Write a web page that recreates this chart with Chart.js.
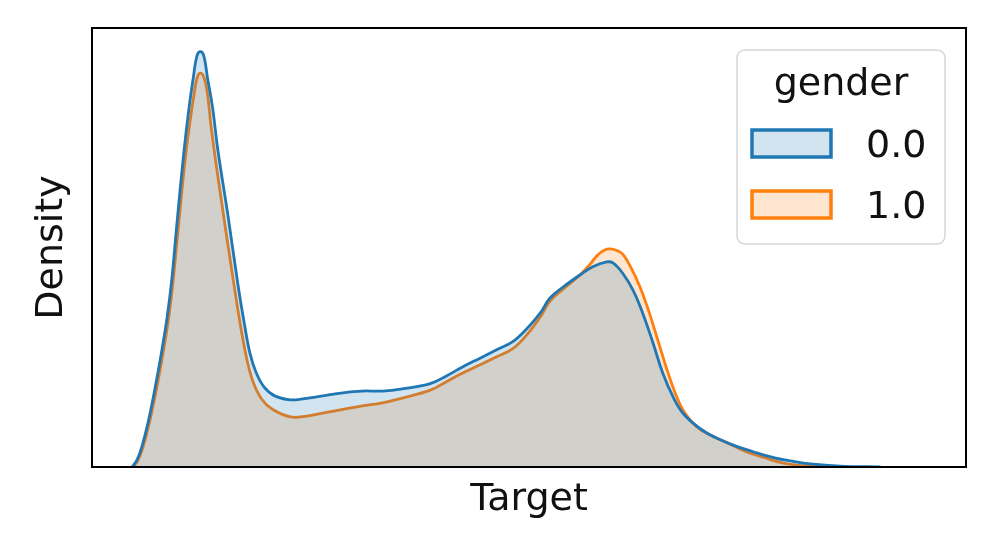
<!DOCTYPE html>
<html>
<head>
<meta charset="utf-8">
<script src="https://cdn.jsdelivr.net/npm/chart.js@4.4.1/dist/chart.umd.min.js"></script>
<style>
  html, body { margin: 0; padding: 0; background: #ffffff; }
  #wrap { width: 997px; height: 554px; position: relative; }
</style>
</head>
<body>
<div id="wrap"><canvas id="c" width="997" height="554"></canvas></div>
<script>
// ---- Data (x: Target, normalised 0-100; y: density, relative units) ----
const seriesNames = ["0.0", "1.0"];
const legendTitle = "gender";
const xLabel = "Target";
const yLabel = "Density";

const targetX0 = [4.6, 5.15, 5.7, 6.4, 7.2, 7.9, 8.6, 9.15, 9.7, 10.5, 11.1, 11.6, 12.0, 12.4, 12.8, 13.2, 13.8, 14.4, 15.6, 16.7, 17.4, 18.1, 18.8, 19.7, 20.9, 22.7, 24.1, 26.4, 28.7, 30.9, 33.2, 35.5, 38.7, 40.6, 42.4, 44.4, 46.3, 48.1, 49.7, 51.3, 52.4, 53.9, 55.8, 57.3, 58.9, 59.6, 60.7, 61.9, 63.0, 64.2, 65.3, 66.5, 67.6, 69.2, 70.4, 71.9, 73.6, 76.1, 78.1, 79.9, 82.2, 85.6, 90.2];
const density0 = [0, 1.6, 4.6, 10.0, 17.8, 25.5, 34.2, 43.1, 55.1, 71.5, 81.8, 88.8, 93.6, 94.6, 93.6, 88.8, 81.8, 72.2, 56.7, 41.5, 33.0, 25.7, 21.4, 18.2, 16.2, 15.3, 15.5, 16.2, 16.9, 17.3, 17.3, 17.8, 19.0, 20.8, 22.8, 24.8, 26.7, 28.5, 31.4, 35.1, 38.5, 41.0, 43.7, 45.6, 46.7, 46.5, 44.2, 40.3, 35.1, 28.2, 21.4, 15.9, 12.3, 9.3, 7.7, 6.2, 4.8, 3.2, 2.1, 1.4, 0.7, 0.2, 0];

const targetX1 = [4.7, 5.25, 5.8, 6.5, 7.3, 8.0, 8.7, 9.25, 9.8, 10.6, 11.2, 11.7, 12.05, 12.4, 12.8, 13.2, 13.6, 14.2, 15.3, 16.4, 17.1, 17.8, 18.5, 19.4, 20.6, 22.7, 24.6, 26.4, 28.7, 30.9, 33.2, 35.5, 38.7, 40.6, 42.4, 44.4, 46.3, 48.1, 49.7, 51.3, 52.4, 53.9, 55.8, 57.0, 57.8, 58.6, 59.3, 60.2, 60.8, 61.7, 62.7, 63.7, 64.8, 65.8, 66.8, 67.8, 69.2, 70.9, 72.7, 74.7, 77.0, 79.1, 82.2, 85.6];
const density1 = [0, 1.5, 4.3, 9.5, 17.0, 24.5, 33.0, 41.8, 53.0, 69.0, 78.5, 85.2, 88.8, 89.7, 88.8, 85.2, 78.0, 69.0, 54.0, 39.5, 31.0, 23.8, 19.0, 15.5, 13.2, 11.4, 11.6, 12.3, 13.1, 13.9, 14.6, 15.7, 17.5, 19.5, 21.4, 23.3, 25.1, 26.9, 30.0, 34.2, 37.8, 40.5, 43.7, 46.2, 48.2, 49.4, 49.7, 49.2, 48.3, 45.3, 41.0, 35.5, 28.5, 22.1, 16.5, 12.4, 9.1, 7.1, 5.5, 3.6, 2.1, 0.9, 0.2, 0];

const colors = ["#1f77b4", "#ff7f0e"];
const fills = ["rgba(31,119,180,0.2)", "rgba(255,127,14,0.2)"];

function toPoints(xs, ys) { return xs.map((x, i) => ({ x: x, y: ys[i] })); }

const FONT = '"DejaVu Sans", sans-serif';

const framePlugin = {
  id: 'frame',
  afterDatasetsDraw(chart) {
    const { ctx, chartArea: a } = chart;
    ctx.save();
    ctx.strokeStyle = '#000';
    ctx.lineWidth = 2;
    ctx.strokeRect(a.left, a.top, a.right - a.left, a.bottom - a.top);
    ctx.restore();
  }
};

const legendPlugin = {
  id: 'mplLegend',
  afterDraw(chart) {
    const { ctx, chartArea: a } = chart;
    const bx = a.right - 229, by = a.top + 22, bw = 208, bh = 194, r = 8;
    ctx.save();
    ctx.fillStyle = 'rgba(255,255,255,0.8)';
    ctx.strokeStyle = '#d6d6d6';
    ctx.lineWidth = 1.5;
    ctx.beginPath();
    ctx.roundRect(bx, by, bw, bh, r);
    ctx.fill();
    ctx.stroke();
    ctx.fillStyle = '#111';
    ctx.font = '38px ' + FONT;
    ctx.textAlign = 'center';
    ctx.textBaseline = 'alphabetic';
    ctx.fillText(legendTitle, bx + bw / 2, by + 45);
    const rows = [by + 80, by + 141];
    seriesNames.forEach((name, i) => {
      const ry = rows[i];
      ctx.fillStyle = fills[i];
      ctx.fillRect(bx + 15, ry, 79, 27);
      ctx.strokeStyle = colors[i];
      ctx.lineWidth = 3.5;
      ctx.strokeRect(bx + 15, ry, 79, 27);
      ctx.fillStyle = '#111';
      ctx.textAlign = 'left';
      ctx.fillText(name, bx + 129, ry + 27);
    });
    ctx.restore();
  }
};

new Chart(document.getElementById('c'), {
  type: 'line',
  data: {
    datasets: [
      {
        label: seriesNames[0],
        data: toPoints(targetX0, density0),
        borderColor: colors[0],
        backgroundColor: fills[0],
        borderWidth: 2.8,
        borderJoinStyle: 'round',
        fill: 'origin',
        pointRadius: 0,
        tension: 0.4
      },
      {
        label: seriesNames[1],
        data: toPoints(targetX1, density1),
        borderColor: colors[1],
        backgroundColor: fills[1],
        borderWidth: 2.8,
        borderJoinStyle: 'round',
        fill: 'origin',
        pointRadius: 0,
        tension: 0.4
      }
    ]
  },
  options: {
    responsive: false,
    animation: false,
    devicePixelRatio: 1,
    layout: { padding: { left: 0, right: 31, top: 28, bottom: 0 } },
    plugins: {
      legend: { display: false },
      tooltip: { enabled: false }
    },
    scales: {
      x: {
        type: 'linear',
        min: 0,
        max: 100,
        grid: { display: false, drawTicks: false },
        border: { display: false },
        ticks: { display: false },
        title: {
          display: true,
          text: xLabel,
          color: '#111',
          font: { family: FONT, size: 38 },
          padding: { top: 4, bottom: 31 }
        },
        afterFit(scale) { scale.height = 87; }
      },
      y: {
        min: 0,
        max: 100,
        grid: { display: false, drawTicks: false },
        border: { display: false },
        ticks: { display: false },
        title: {
          display: true,
          text: yLabel,
          color: '#111',
          font: { family: FONT, size: 38 },
          padding: { top: 29, bottom: 4 }
        },
        afterFit(scale) { scale.width = 92; }
      }
    }
  },
  plugins: [framePlugin, legendPlugin]
});
</script>
</body>
</html>
